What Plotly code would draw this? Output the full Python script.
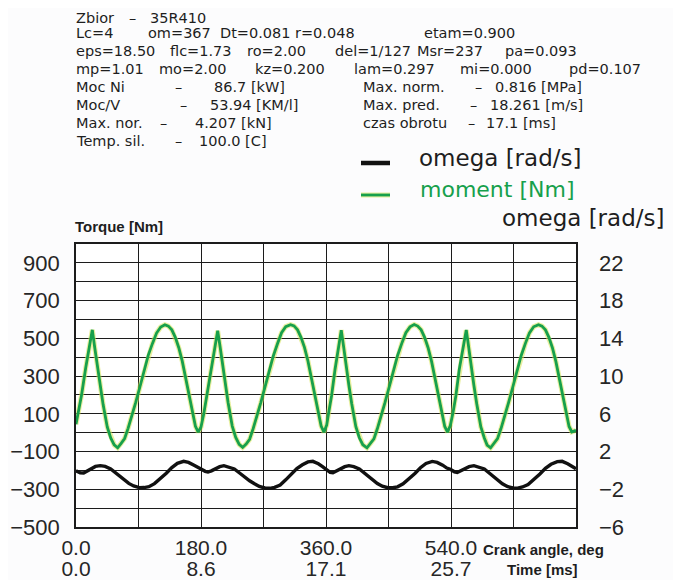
import plotly.graph_objects as go

# ---------------- data ----------------
angle_deg = [
    0, 4, 8, 14, 19, 23.5, 27, 31, 35, 39, 45, 50, 55, 60, 65, 70, 75, 80, 86, 92, 98, 104, 110, 116, 122, 128, 133, 138, 143, 148, 153, 158, 163, 168, 172, 176,
    180, 184, 188, 194, 199, 204, 207.5, 211, 215, 219, 225, 230, 235, 240, 245, 250, 255, 260, 266, 272, 278, 284, 290, 296, 302, 309, 314, 319, 324, 329, 334, 339, 344, 349, 353, 357,
    361, 364, 368, 373, 378, 382, 385.5, 389, 393, 397, 403, 408, 413, 419, 424, 429, 434, 439, 445, 451, 457, 463, 469, 475, 481, 487, 492, 497, 502, 507, 512, 517, 522, 527, 531, 535,
    539, 543, 547, 552, 557, 562, 565.5, 569, 573, 577, 583, 588, 592, 597, 602, 607, 612, 617, 623, 629, 635, 641, 647, 653, 659, 666, 671, 676, 681, 686, 691, 696, 701, 706, 710, 714, 717, 720,
]
torque_nm = [
    45, 115, 200, 344, 450, 545, 450, 340, 245, 150, 30, -28, -65, -80, -57, -31, 23, 80, 160, 242, 326, 410, 472, 528, 560, 572, 565, 545, 505, 450, 379, 290, 193, 95, 34, 3,
    30, 100, 190, 330, 440, 540, 455, 360, 255, 160, 35, -25, -62, -78, -60, -35, 20, 78, 158, 240, 325, 405, 470, 530, 562, 572, 566, 545, 505, 452, 380, 292, 195, 100, 35, 2,
    40, 110, 195, 335, 445, 543, 452, 345, 250, 155, 32, -27, -64, -80, -58, -33, 22, 80, 160, 242, 326, 408, 472, 530, 561, 573, 565, 545, 505, 450, 378, 290, 192, 96, 33, 3,
    38, 108, 195, 338, 446, 544, 452, 345, 250, 155, 30, -28, -66, -80, -58, -32, 22, 80, 160, 242, 326, 408, 472, 529, 561, 572, 565, 545, 505, 450, 378, 290, 192, 96, 33, 4, 8, 12,
]

omega_angle_deg = [
    0, 6, 11, 16, 21, 28, 35, 42, 50, 57, 64, 70, 76, 83, 91, 98, 105, 113, 122, 130, 138, 146, 155, 162, 170, 176,
    180, 186, 190, 195, 200, 207, 213, 220, 228, 236, 243, 250, 257, 264, 272, 279, 286, 294, 302, 310, 318, 326, 334, 341, 349, 355,
    360, 366, 370, 375, 380, 387, 393, 400, 408, 415, 422, 428, 434, 441, 449, 456, 463, 471, 480, 488, 496, 504, 513, 520, 528, 534,
    539, 545, 549, 554, 559, 566, 573, 580, 588, 595, 602, 608, 614, 621, 629, 636, 643, 651, 660, 668, 676, 684, 693, 700, 708, 714, 720,
]
omega_rad_s = [
    -0.05, -0.25, -0.27, -0.05, 0.2, 0.42, 0.5, 0.42, 0.15, -0.25, -0.7, -1.05, -1.38, -1.65, -1.83, -1.82, -1.73, -1.4, -0.87, -0.3, 0.3, 0.75, 0.96, 0.85, 0.55, 0.25,
    0.15, -0.1, -0.17, -0.05, 0.17, 0.4, 0.5, 0.38, 0.15, -0.3, -0.75, -1.1, -1.42, -1.7, -1.86, -1.9, -1.8, -1.55, -1.0, -0.4, 0.2, 0.6, 0.9, 0.96, 0.7, 0.4,
    0.1, -0.2, -0.25, -0.05, 0.18, 0.4, 0.5, 0.4, 0.15, -0.27, -0.72, -1.05, -1.4, -1.68, -1.84, -1.84, -1.74, -1.42, -0.88, -0.32, 0.28, 0.73, 0.95, 0.85, 0.55, 0.25,
    0.12, -0.15, -0.22, -0.05, 0.18, 0.4, 0.5, 0.38, 0.15, -0.28, -0.72, -1.08, -1.42, -1.7, -1.86, -1.88, -1.76, -1.5, -0.95, -0.38, 0.22, 0.65, 0.93, 0.96, 0.7, 0.4, 0.17,
]

torque_tick_vals = [-500, -300, -100, 100, 300, 500, 700, 900]
torque_tick_text = ["\u2212500", "\u2212300", "\u2212100", "100", "300", "500", "700", "900"]
omega_tick_vals = [-6, -2, 2, 6, 10, 14, 18, 22]
omega_tick_text = ["\u22126", "\u22122", "2", "6", "10", "14", "18", "22"]
angle_tick_vals = [0, 180, 360, 540]
angle_tick_text = ["0.0", "180.0", "360.0", "540.0"]
time_tick_vals = [0, 8.55, 17.1, 25.65]
time_tick_text = ["0.0", "8.6", "17.1", "25.7"]

header_items = [
    ("Zbior", 74, 0), ("\u2013", 127, 0), ("35R410", 148, 0),
    ("Lc=4", 74, 1), ("om=367", 146, 1), ("Dt=0.081", 218, 1), ("r=0.048", 293, 1), ("etam=0.900", 422, 1),
    ("eps=18.50", 74, 2), ("flc=1.73", 168, 2), ("ro=2.00", 245, 2), ("del=1/127", 333, 2), ("Msr=237", 415, 2), ("pa=0.093", 503, 2),
    ("mp=1.01", 74, 3), ("mo=2.00", 157, 3), ("kz=0.200", 253, 3), ("lam=0.297", 352, 3), ("mi=0.000", 458, 3), ("pd=0.107", 567, 3),
    ("Moc Ni", 74, 4), ("\u2013", 173, 4), ("86.7 [kW]", 212, 4), ("Max. norm.", 361, 4), ("\u2013", 473, 4), ("0.816 [MPa]", 493, 4),
    ("Moc/V", 74, 5), ("\u2013", 178, 5), ("53.94 [KM/l]", 208, 5), ("Max. pred.", 361, 5), ("\u2013", 468, 5), ("18.261 [m/s]", 488, 5),
    ("Max. nor.", 74, 6), ("\u2013", 158, 6), ("4.207 [kN]", 193, 6), ("czas obrotu", 361, 6), ("\u2013", 466, 6), ("17.1 [ms]", 484, 6),
    ("Temp. sil.", 74, 7), ("\u2013", 173, 7), ("100.0 [C]", 197, 7),
]
header_rows_y = [18, 33, 51, 69, 87, 105, 123, 141]

# ---------------- geometry helpers (page pixel -> paper) ----------------
OFF = 8                      # default page margin around the figure div
W, H = 681 - OFF, 580 - OFF  # figure size
L, R, T, B = 76, 576, 244, 527  # plot area in page pixels


def px(x):
    return (x - L) / (R - L)


def py(y):
    return (B - y) / (B - T)


GRID = "#1c1c1c"
GREEN = "#17a04c"
HALO = "rgba(214,226,80,0.55)"
TICKFONT = dict(family="Liberation Sans", size=22, color="#262626")
XTICKFONT = dict(family="Liberation Sans", size=21, color="#262626")

fig = go.Figure()
fig.add_trace(go.Scatter(x=angle_deg, y=torque_nm, mode="lines",
                         line=dict(color=HALO, width=5), hoverinfo="skip", showlegend=False))
fig.add_trace(go.Scatter(x=angle_deg, y=torque_nm, mode="lines", name="moment [Nm]",
                         line=dict(color=GREEN, width=2.8), showlegend=False))
fig.add_trace(go.Scatter(x=omega_angle_deg, y=omega_rad_s, mode="lines", name="omega [rad/s]",
                         yaxis="y2", line=dict(color="#111111", width=3.4), showlegend=False))
fig.add_trace(go.Scatter(x=[0, 34.2], y=[None, None], xaxis="x2", mode="lines",
                         hoverinfo="skip", showlegend=False))

x_grid_vals = list(range(0, 721, 90))
y_grid_vals = list(range(-500, 1001, 100))

fig.update_layout(
    template="none",
    width=W, height=H,
    margin=dict(l=L - OFF, r=(W + OFF) - R, t=T - OFF, b=(H + OFF) - B, pad=0),
    paper_bgcolor="#fcfcfd", plot_bgcolor="white",
    showlegend=False,
    xaxis=dict(range=[0, 720], tickvals=x_grid_vals, automargin=False,
               ticktext=[angle_tick_text[angle_tick_vals.index(v)] if v in angle_tick_vals else "" for v in x_grid_vals],
               showgrid=True, gridcolor=GRID, gridwidth=1.3, zeroline=False,
               showline=True, linecolor=GRID, linewidth=1.6, mirror=True,
               ticks="", tickfont=XTICKFONT, ticklabelstandoff=1),
    xaxis2=dict(range=[0, 34.2], overlaying="x", anchor="free", position=0, side="bottom",
                tickvals=time_tick_vals, ticktext=time_tick_text, automargin=False,
                showgrid=False, zeroline=False, showline=False, ticks="",
                tickfont=XTICKFONT, ticklabelstandoff=27),
    yaxis=dict(range=[-500, 1000], tickvals=y_grid_vals, automargin=False,
               ticktext=[torque_tick_text[torque_tick_vals.index(v)] if v in torque_tick_vals else "" for v in y_grid_vals],
               showgrid=True, gridcolor=GRID, gridwidth=1.3, zeroline=False,
               showline=True, linecolor=GRID, linewidth=1.6, mirror=True,
               ticks="", tickfont=TICKFONT, ticklabelstandoff=10),
    yaxis2=dict(range=[-6, 24], overlaying="y", side="right", anchor="x", automargin=False,
                tickvals=omega_tick_vals, ticktext=omega_tick_text,
                showgrid=False, zeroline=False, showline=False, ticks="",
                tickfont=TICKFONT, ticklabelstandoff=22),
)

annotations = []
for text, x, row in header_items:
    annotations.append(dict(text=text, x=px(x), y=py(header_rows_y[row]), xref="paper", yref="paper",
                            xanchor="left", yanchor="middle", showarrow=False,
                            font=dict(family="DejaVu Sans", size=14.5, color="#1e1e1e")))

annotations += [
    dict(text="omega [rad/s]", x=px(417), y=py(158), xanchor="left", yanchor="middle",
         font=dict(family="DejaVu Sans", size=23, color="#1e1e1e")),
    dict(text="moment [Nm]", x=px(418), y=py(189), xanchor="left", yanchor="middle",
         font=dict(family="DejaVu Sans", size=22, color=GREEN)),
    dict(text="omega [rad/s]", x=px(666), y=py(218), xanchor="right", yanchor="middle",
         font=dict(family="DejaVu Sans", size=23, color="#1e1e1e")),
    dict(text="<b>Torque [Nm]</b>", x=px(73), y=py(226), xanchor="left", yanchor="middle",
         font=dict(family="Liberation Sans", size=15, color="#1e1e1e")),
    dict(text="<b>Crank angle, deg</b>", x=px(543), y=py(549), xanchor="center", yanchor="middle",
         font=dict(family="Liberation Sans", size=15, color="#1e1e1e")),
    dict(text="<b>Time [ms]</b>", x=px(542), y=py(569), xanchor="center", yanchor="middle",
         font=dict(family="Liberation Sans", size=15, color="#1e1e1e")),
]
for a in annotations:
    a.setdefault("xref", "paper")
    a.setdefault("yref", "paper")
    a["showarrow"] = False
fig.update_layout(annotations=annotations)

shapes = [
    dict(type="line", xref="paper", yref="paper", x0=px(361), x1=px(390), y0=py(163), y1=py(163),
         line=dict(color="#111111", width=4.5)),
    dict(type="line", xref="paper", yref="paper", x0=px(361), x1=px(390), y0=py(195), y1=py(195),
         line=dict(color=HALO, width=5)),
    dict(type="line", xref="paper", yref="paper", x0=px(361), x1=px(390), y0=py(195), y1=py(195),
         line=dict(color=GREEN, width=2.8)),
]
fig.update_layout(shapes=shapes)

fig.write_html("out.html")
